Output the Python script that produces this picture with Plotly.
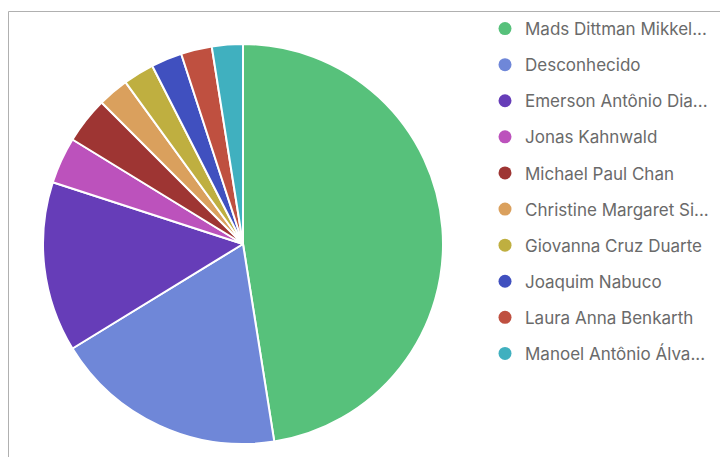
import plotly.graph_objects as go

# Slice labels (as shown, truncated) and counts
labels = [
    "Mads Dittman Mikkel...",
    "Desconhecido",
    "Emerson Antônio Dia...",
    "Jonas Kahnwald",
    "Michael Paul Chan",
    "Christine Margaret Si...",
    "Giovanna Cruz Duarte",
    "Joaquim Nabuco",
    "Laura Anna Benkarth",
    "Manoel Antônio Álva...",
]
counts = [38, 15, 11, 3, 3, 2, 2, 2, 2, 2]
colors = [
    "#57c17b", "#6f87d8", "#663db8", "#bc52bc", "#9e3533",
    "#daa05d", "#bfaf40", "#4050bf", "#bf5040", "#40b0bf",
]

W, H = 720, 457

fig = go.Figure()

fig.add_trace(go.Pie(
    labels=labels,
    values=counts,
    marker=dict(colors=colors, line=dict(color="white", width=2)),
    sort=False,
    direction="clockwise",
    rotation=0,
    textinfo="none",
    hoverinfo="label+value+percent",
    showlegend=False,
    domain=dict(x=[43 / W, 443 / W], y=[1 - 444 / H, 1 - 44 / H]),
))

# Circle legend entries, one per slice
for name, col in zip(labels, colors):
    fig.add_trace(go.Scatter(
        x=[None], y=[None], mode="markers", name=name,
        legendgroup=name,
        marker=dict(symbol="circle", size=13, color=col),
        hoverinfo="skip",
    ))

# Panel frame lines (top and left)
frame = dict(type="line", xref="paper", yref="paper",
             line=dict(color="#b0b0b0", width=1))
fig.add_shape(**frame, x0=8.5 / W, x1=1, y0=1 - 11.5 / H, y1=1 - 11.5 / H)
fig.add_shape(**frame, x0=8.5 / W, x1=8.5 / W, y0=0, y1=1 - 11.5 / H)

fig.update_layout(
    width=W, height=H,
    margin=dict(l=0, r=0, t=0, b=0),
    paper_bgcolor="white",
    plot_bgcolor="white",
    xaxis=dict(visible=False),
    yaxis=dict(visible=False),
    font=dict(family="Inter, sans-serif", size=17, color="#6a6a6a"),
    legend=dict(
        x=485 / W, xanchor="left",
        y=1 - 11 / H, yanchor="top",
        tracegroupgap=11,
        itemclick=False, itemdoubleclick=False,
        bgcolor="rgba(0,0,0,0)",
    ),
)

fig.write_html("out.html")
